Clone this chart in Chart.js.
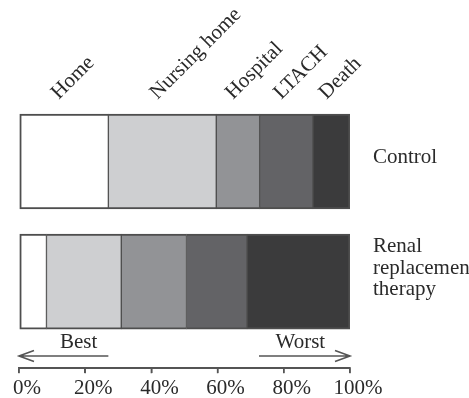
<!DOCTYPE html>
<html>
<head>
<meta charset="utf-8">
<script src="https://cdn.jsdelivr.net/npm/chart.js@4"></script>
<style>
  html, body { margin: 0; padding: 0; background: #fff; }
  #wrap { width: 469px; height: 398px; }
</style>
</head>
<body>
<div id="wrap"><canvas id="chart_outcomes"></canvas></div>
<script>
// discharge disposition, % of patients
const outcomes = ['Home', 'Nursing home', 'Hospital', 'LTACH', 'Death'];
const groups = ['Control', ['Renal', 'replacement', 'therapy']];
const control = [27.0, 32.6, 13.1, 16.1, 11.2];
const rrt = [8.3, 22.6, 19.7, 18.3, 31.1];
const xTicks = [0, 20, 40, 60, 80, 100];

const fills = ['#ffffff', '#cecfd1', '#929396', '#636366', '#3b3b3c'];
const edge = '#4e4e4e';
const ink = '#2a2a2a';
const serif = "'Liberation Serif', 'Times New Roman', serif";
// the side labels sit a little above the middle of their bar
const labelNudge = [0.03, 0.11];

// label spots on the top axis = middle of each control segment
let acc = 0;
const topTicks = control.map(v => { const c = acc + v / 2; acc += v; return c; });

const datasets = outcomes.map((name, i) => ({
  label: name,
  data: [{x: control[i], y: 0}, {x: rrt[i], y: 1}],
  backgroundColor: fills[i],
  borderColor: edge,
  borderWidth: {top: 2, bottom: 2, left: i === 0 ? 2 : 1, right: i === outcomes.length - 1 ? 2 : 1},
  borderSkipped: false,
  barThickness: 95
}));

// Best / Worst arrows under the bars, and the bottom axis line with its ticks
const arrowPlugin = {
  id: 'arrows',
  afterDraw(chart) {
    const ctx = chart.ctx;
    const xs = chart.scales.x;
    const yLine = chart.chartArea.bottom - 12;
    const arrows = [
      {text: 'Best', from: 27, to: 0, at: 18},
      {text: 'Worst', from: 72.5, to: 100, at: 85}
    ];
    ctx.save();
    ctx.strokeStyle = '#555';
    ctx.lineWidth = 1.6;
    ctx.fillStyle = ink;
    ctx.font = '21px ' + serif;
    ctx.textAlign = 'center';
    ctx.textBaseline = 'alphabetic';
    arrows.forEach(a => {
      const x0 = xs.getPixelForValue(a.from);
      const x1 = xs.getPixelForValue(a.to);
      const dir = x1 > x0 ? 1 : -1;
      ctx.beginPath();
      ctx.moveTo(x0, yLine);
      ctx.lineTo(x1, yLine);
      ctx.moveTo(x1 - dir * 15, yLine - 5.5);
      ctx.lineTo(x1, yLine);
      ctx.lineTo(x1 - dir * 15, yLine + 5.5);
      ctx.stroke();
      ctx.fillText(a.text, xs.getPixelForValue(a.at), yLine - 8);
    });

    // axis line + tick marks, placed by the x scale
    const yAxis = Math.round(xs.top) + 0.25;
    ctx.lineWidth = 1.5;
    ctx.beginPath();
    ctx.moveTo(xs.getPixelForValue(xTicks[0]) - 0.75, yAxis);
    ctx.lineTo(xs.getPixelForValue(xTicks[xTicks.length - 1]) + 0.75, yAxis);
    xTicks.forEach(v => {
      const px = xs.getPixelForValue(v);
      ctx.moveTo(px, yAxis);
      ctx.lineTo(px, yAxis + 5);
    });
    ctx.stroke();
    ctx.restore();
  }
};

new Chart(document.getElementById('chart_outcomes'), {
  type: 'bar',
  data: { datasets: datasets },
  options: {
    indexAxis: 'y',
    responsive: true,
    maintainAspectRatio: false,
    animation: false,
    layout: { padding: { left: 17 } },
    plugins: { legend: { display: false }, tooltip: { enabled: false } },
    scales: {
      x: {
        type: 'linear',
        position: 'bottom',
        stacked: true,
        min: 0,
        max: 100,
        afterBuildTicks: axis => { axis.ticks = xTicks.map(v => ({value: v})); },
        afterFit: axis => { axis.height = 30; },
        ticks: {
          callback: v => v + '%',
          color: ink,
          font: { family: serif, size: 21, lineHeight: 1 },
          padding: 5,
          labelOffset: 8,
          maxRotation: 0
        },
        grid: { drawOnChartArea: false, drawTicks: true, tickLength: 5, color: '#555', lineWidth: 1.5 },
        border: { display: true, color: '#555', width: 1.5 }
      },
      top: {
        type: 'linear',
        position: 'top',
        min: 0,
        max: 100,
        afterBuildTicks: axis => { axis.ticks = topTicks.map(v => ({value: v})); },
        afterFit: axis => { axis.height = 100; },
        ticks: {
          callback: (v, i) => outcomes[i],
          color: ink,
          font: { family: serif, size: 21 },
          minRotation: 45,
          maxRotation: 45,
          padding: -13,
          labelOffset: 9,
          autoSkip: false
        },
        grid: { display: false },
        border: { display: false }
      },
      y: {
        type: 'linear',
        position: 'right',
        reverse: true,
        stacked: true,
        offset: false,
        min: -0.5125,
        max: 1.72,
        afterBuildTicks: axis => { axis.ticks = groups.map((g, i) => ({value: i - labelNudge[i]})); },
        afterFit: axis => { axis.width = 119; },
        ticks: {
          callback: (v, i) => groups[i],
          color: ink,
          font: { family: serif, size: 21, lineHeight: 1.02 },
          padding: 15
        },
        grid: { display: false },
        border: { display: false }
      }
    }
  },
  plugins: [arrowPlugin]
});
</script>
</body>
</html>
